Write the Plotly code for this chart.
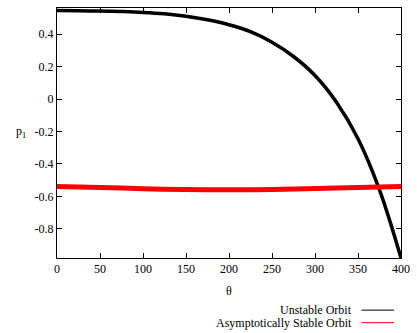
import plotly.graph_objects as go

theta_unstable = [0, 25, 50, 75, 100, 125, 150, 175, 200, 225, 250, 275, 300, 325, 350, 375, 400]
p1_unstable = [0.545, 0.544, 0.542, 0.539, 0.534, 0.525, 0.510, 0.488, 0.458, 0.415, 0.350, 0.262, 0.145, -0.020, -0.245, -0.560, -0.980]

theta_stable = [0, 50, 100, 150, 200, 250, 300, 350, 400]
p1_stable = [-0.540, -0.545, -0.553, -0.558, -0.560, -0.558, -0.552, -0.546, -0.540]

x_ticks = [0, 50, 100, 150, 200, 250, 300, 350, 400]
y_ticks = [-0.8, -0.6, -0.4, -0.2, 0, 0.2, 0.4]
y_tick_text = ["-0.8", "-0.6", "-0.4", "-0.2", "0", "0.2", "0.4"]

series_names = ["Unstable Orbit", "Asymptotically Stable Orbit"]
series_colors = ["#000000", "#ff0000"]

FONT = "Liberation Serif, Times New Roman, serif"

fig = go.Figure()
fig.add_trace(go.Scatter(x=theta_unstable, y=p1_unstable, mode="lines",
                         line=dict(color=series_colors[0], width=3.5, shape="spline"),
                         name=series_names[0], showlegend=False))
fig.add_trace(go.Scatter(x=theta_stable, y=p1_stable, mode="lines",
                         line=dict(color=series_colors[1], width=5, shape="spline"),
                         name=series_names[1], showlegend=False))

axis_common = dict(showgrid=False, zeroline=False, showline=True, linecolor="black",
                   linewidth=1, mirror="ticks", ticks="inside", ticklen=5,
                   tickcolor="black", tickfont=dict(family=FONT, size=12, color="black"))

fig.update_xaxes(range=[0, 400], tickvals=x_ticks, **axis_common)
fig.update_yaxes(range=[-0.98, 0.561], tickvals=y_ticks, ticktext=y_tick_text, **axis_common)

fig.add_annotation(text="θ", xref="paper", yref="paper", x=0.5, y=-0.13,
                   showarrow=False, font=dict(family=FONT, size=12, color="black"),
                   xanchor="center", yanchor="middle")
fig.add_annotation(text="p<sub>1</sub>", xref="paper", yref="paper", x=-0.085, y=0.505,
                   showarrow=False, font=dict(family=FONT, size=12, color="black"),
                   xanchor="right", yanchor="middle")

legend_y = [-0.2085, -0.2587]
for name, color, ly in zip(series_names, series_colors, legend_y):
    fig.add_annotation(text=name, xref="paper", yref="paper", x=0.862, y=ly,
                       showarrow=False, font=dict(family=FONT, size=12, color="black"),
                       xanchor="right", yanchor="middle")
    fig.add_shape(type="line", xref="paper", yref="paper", x0=0.885, x1=0.980,
                  y0=ly, y1=ly, line=dict(color=color, width=1))

fig.update_layout(width=417, height=333, margin=dict(l=57, r=11, t=7, b=75),
                  paper_bgcolor="white", plot_bgcolor="white",
                  font=dict(family=FONT, size=12, color="black"))

fig.write_html("out.html", config={"displayModeBar": False},
               post_script="document.body.style.margin='0';document.body.style.overflow='hidden';")
